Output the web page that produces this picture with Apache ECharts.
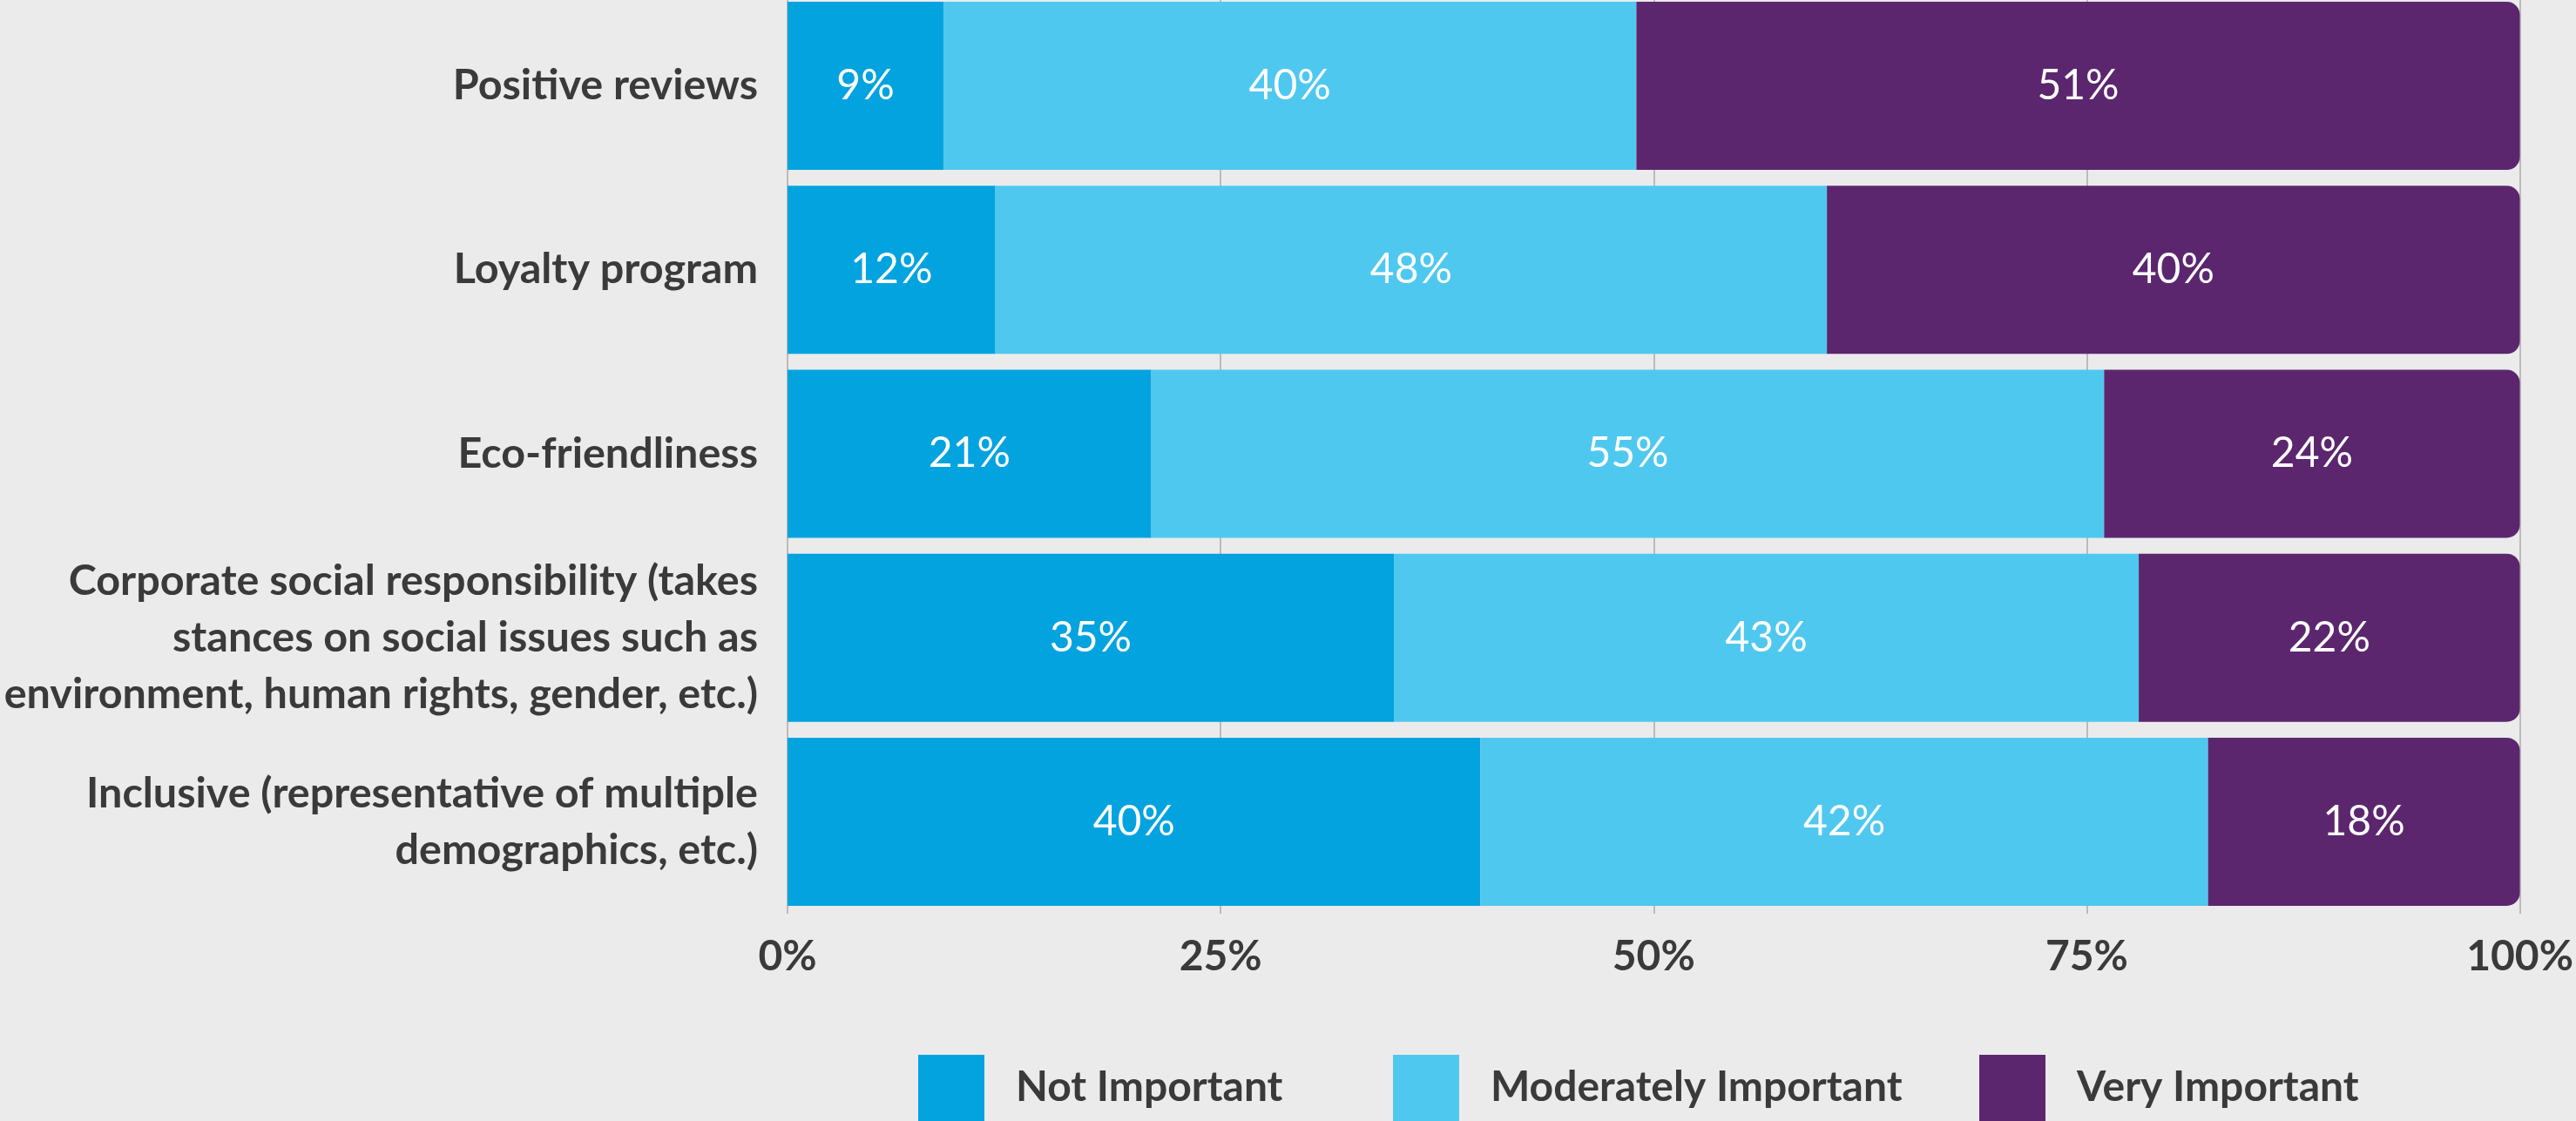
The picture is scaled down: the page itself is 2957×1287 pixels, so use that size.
<!DOCTYPE html>
<html>
<head>
<meta charset="utf-8">
<title>Importance of brand attributes</title>
<script src="https://cdn.jsdelivr.net/npm/echarts@6/dist/echarts.min.js"></script>
<style>
  html, body { margin: 0; padding: 0; background: #EBEBEB; overflow: hidden; }
  body { position: relative; width: 2957px; height: 1287px; }
  /* chart canvas starts slightly above the page so the top bar sits flush */
  #chart { position: absolute; left: 0; top: -7px; width: 2957px; height: 1294px; }
</style>
</head>
<body>
<div id="chart"></div>
<script>
// Attributes, top to bottom
const categories = [
  'Positive reviews',
  'Loyalty program',
  'Eco-friendliness',
  'Corporate social responsibility (takes\nstances on social issues such as\nenvironment, human rights, gender, etc.)',
  'Inclusive (representative of multiple\ndemographics, etc.)'
];

// Share of respondents (%) per importance level
const notImportant = [9, 12, 21, 35, 40];
const moderatelyImportant = [40, 48, 55, 43, 42];
const veryImportant = [51, 40, 24, 22, 18];

const seriesNames = ['Not Important', 'Moderately Important', 'Very Important'];
const seriesColors = ['#03A3E0', '#4FC8F0', '#5C266F'];
const xTicks = [0, 25, 50, 75, 100];

const FONT = 'Lato, "Open Sans", sans-serif';
const TEXT = '#3A3A3A';

const valueLabel = {
  show: true,
  position: 'inside',
  formatter: p => p.value + '%',
  color: '#FFFFFF',
  fontFamily: FONT,
  fontSize: 48,
  fontWeight: 'normal'
};

function makeSeries(idx, values, extraStyle) {
  return {
    name: seriesNames[idx],
    type: 'bar',
    stack: 'total',
    data: values,
    barWidth: 193,
    itemStyle: Object.assign({ color: seriesColors[idx] }, extraStyle || {}),
    label: valueLabel,
    emphasis: { disabled: true }
  };
}

function makeLegend(idx, left) {
  return {
    data: [seriesNames[idx]],
    left: left,
    top: 1218,
    padding: 0,
    itemWidth: 76,
    itemHeight: 76,
    icon: 'rect',
    selectedMode: false,
    textStyle: {
      fontFamily: FONT,
      fontSize: 48,
      fontWeight: 'bold',
      color: TEXT,
      padding: [0, 0, 0, 31]
    }
  };
}

const chart = echarts.init(document.getElementById('chart'), null, { renderer: 'canvas' });

chart.setOption({
  backgroundColor: '#EBEBEB',
  animation: false,
  grid: { left: 904, width: 1993, top: 0, height: 1056, containLabel: false },
  xAxis: {
    type: 'value',
    min: 0,
    max: 100,
    interval: 25,
    axisLine: { show: false },
    axisTick: { show: false },
    splitLine: { show: true, lineStyle: { color: '#ABABAB', width: 1.5 } },
    axisLabel: {
      margin: 26,
      formatter: v => (xTicks.indexOf(v) >= 0 ? v + '%' : ''),
      fontFamily: FONT,
      fontSize: 48,
      fontWeight: 'bold',
      color: TEXT
    }
  },
  yAxis: {
    type: 'category',
    data: categories,
    inverse: true,
    axisLine: { show: false },
    axisTick: { show: false },
    axisLabel: {
      margin: 34,
      align: 'right',
      fontFamily: FONT,
      fontSize: 48.5,
      lineHeight: 65,
      fontWeight: 'bold',
      color: TEXT
    }
  },
  legend: [
    makeLegend(0, 1054),
    makeLegend(1, 1599),
    makeLegend(2, 2272)
  ],
  series: [
    makeSeries(0, notImportant),
    makeSeries(1, moderatelyImportant),
    makeSeries(2, veryImportant, { borderRadius: [0, 15, 15, 0] })
  ]
});
</script>
</body>
</html>
